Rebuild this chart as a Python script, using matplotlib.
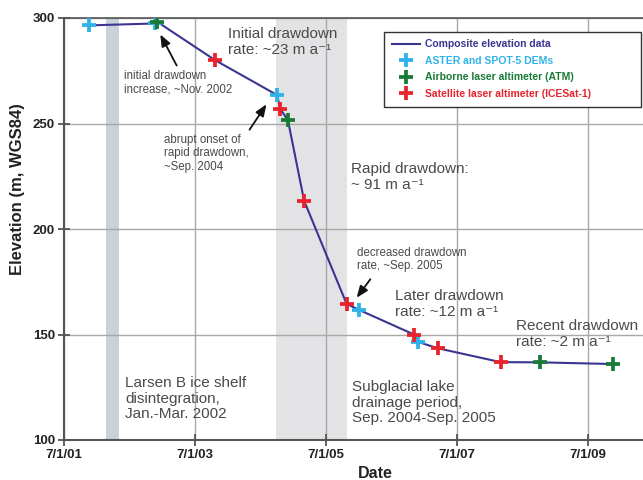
import numpy as np
import matplotlib
matplotlib.use("Agg")
import matplotlib.pyplot as plt
from matplotlib.lines import Line2D

plt.rcParams['font.family'] = ['Liberation Sans', 'DejaVu Sans']

# ---------------- data ----------------
aster_dates = ["2001-11-17", "2002-11-20", "2004-10-01", "2006-01-03", "2006-11-27"]
aster_elev = [296.5, 297.4, 263.5, 161.6, 146.5]

atm_dates = ["2002-12-01", "2004-12-01", "2008-10-08", "2009-11-17"]
atm_elev = [298.3, 251.5, 136.8, 136.0]

icesat_dates = ["2003-10-22", "2004-10-20", "2005-03-01", "2005-10-24",
                "2006-11-06", "2007-03-15", "2008-03-01"]
icesat_elev = [280.0, 256.8, 213.4, 164.5, 149.9, 143.5, 136.9]

y_ticks = [100, 150, 200, 250, 300]
x_tick_dates = ["2001-07-01", "2003-07-01", "2005-07-01", "2007-07-01", "2009-07-01"]

larsen_span = ("2002-02-20", "2002-05-05")
drainage_span = ("2004-09-26", "2005-10-27")

# composite built from all measurements
all_d = np.array(aster_dates + atm_dates + icesat_dates, dtype="datetime64[D]")
all_e = np.array(aster_elev + atm_elev + icesat_elev)
order = np.argsort(all_d)
comp_dates = all_d[order]
comp_elev = all_e[order]

# ---------------- figure ----------------
fig = plt.figure(figsize=(6.43, 4.8), dpi=100)
ax = fig.add_axes([64/643, 40/480, 586/643, 422/480])

c_line = "#3a3590"
c_cyan = "#2fb2ea"
c_green = "#197a36"
c_red = "#e8232b"
c_text = "#4a4a4a"

ax.axvspan(np.datetime64(larsen_span[0]), np.datetime64(larsen_span[1]),
           color="#c9d1d9", zorder=0, lw=0)
ax.axvspan(np.datetime64(drainage_span[0]), np.datetime64(drainage_span[1]),
           color="#e3e3e6", zorder=0, lw=0)

ax.plot(comp_dates, comp_elev, color=c_line, lw=1.5, zorder=3)
mk = dict(marker="+", ls="none", ms=10.5, mew=2.7, zorder=4)
ax.plot(np.array(aster_dates, dtype="datetime64[D]"), aster_elev, color=c_cyan, **mk)
ax.plot(np.array(atm_dates, dtype="datetime64[D]"), atm_elev, color=c_green, **mk)
ax.plot(np.array(icesat_dates, dtype="datetime64[D]"), icesat_elev, color=c_red, **mk)

ax.set_xlim(np.datetime64("2001-07-01"), np.datetime64("2010-06-12"))
ax.set_ylim(100, 300)
ax.set_yticks(y_ticks)
xt = np.array(x_tick_dates, dtype="datetime64[D]")
ax.set_xticks(xt)
ax.set_xticklabels([f"{int(s[5:7])}/{int(s[8:10])}/{s[2:4]}" for s in x_tick_dates])

ax.grid(True, color="#a8a8a8", lw=1, zorder=0.5)
for sp in ["left", "bottom"]:
    ax.spines[sp].set_color("#555555")
    ax.spines[sp].set_linewidth(1.5)
ax.spines["top"].set_color("#555555")
ax.spines["top"].set_linewidth(1.2)
ax.spines["right"].set_visible(False)
ax.tick_params(direction="inout", length=9, width=1.3, color="#555555",
               labelsize=9.5, pad=2)
for lbl in ax.get_xticklabels() + ax.get_yticklabels():
    lbl.set_fontweight("bold")
    lbl.set_color("#222222")

# axis titles (centred on the original, wider plot area)
fig.text(18/643, 1 - 189/480, "Elevation (m, WGS84)", rotation=90, fontsize=12,
         fontweight="bold", ha="center", va="center", color="#222222")
fig.text(375/643, 1 - 466/480, "Date", fontsize=11.5, fontweight="bold",
         ha="center", va="top", color="#222222")

# ---------------- annotations ----------------
def ptxt(px, py, s, size, **kw):
    fig.text(px/643, 1 - py/480, s, fontsize=size, color=c_text, va="top", ha="left",
             linespacing=1.15, **kw)

ptxt(228, 27, "Initial drawdown\nrate: ~23 m a\u207b\u00b9", 11)
ptxt(124, 70, "initial drawdown\nincrease, ~Nov. 2002", 8.3)
ptxt(164, 134, "abrupt onset of\nrapid drawdown,\n~Sep. 2004", 8.3)
ptxt(351, 162, "Rapid drawdown:\n~ 91 m a\u207b\u00b9", 11)
ptxt(357, 247, "decreased drawdown\nrate, ~Sep. 2005", 8.3)
ptxt(395, 289, "Later drawdown\nrate: ~12 m a\u207b\u00b9", 11)
ptxt(516, 319, "Recent drawdown\nrate: ~2 m a\u207b\u00b9", 11)
ptxt(125, 376, "Larsen B ice shelf\ndisintegration,\nJan.-Mar. 2002", 11)
ptxt(352, 380, "Subglacial lake\ndrainage period,\nSep. 2004-Sep. 2005", 11)

def parrow(x0, y0, x1, y1):
    fig.add_artist(matplotlib.patches.FancyArrowPatch(
        (x0/643, 1 - y0/480), (x1/643, 1 - y1/480), transform=fig.transFigure,
        arrowstyle="-|>,head_length=7,head_width=2.8", color="#111111", lw=1.3,
        mutation_scale=1, zorder=6))

parrow(178, 68, 159, 32)
parrow(248, 132, 268, 102)
parrow(372, 277, 355, 300)

# ---------------- legend ----------------
handles = [
    Line2D([], [], color=c_line, lw=1.5),
    Line2D([], [], color=c_cyan, marker="+", ls="none", ms=9.5, mew=2.7),
    Line2D([], [], color=c_green, marker="+", ls="none", ms=9.5, mew=2.7),
    Line2D([], [], color=c_red, marker="+", ls="none", ms=9.5, mew=2.7),
]
labels = ["Composite elevation data", "ASTER and SPOT-5 DEMs",
          "Airborne laser altimeter (ATM)", "Satellite laser altimeter (ICESat-1)"]
leg = ax.legend(handles, labels, loc="upper left",
                bbox_to_anchor=(320/586, 1 - 14/422, 257/586, 0.001),
                mode="expand", borderaxespad=0, fancybox=False,
                edgecolor="#333333", framealpha=1,
                prop={"size": 7.5, "weight": "bold"}, handlelength=2.7,
                handletextpad=0.5, labelspacing=0.62, borderpad=0.75,
                labelcolor=[c_line, c_cyan, c_green, c_red])
leg.get_frame().set_linewidth(1.0)
leg.set_zorder(7)

fig.savefig("out.png", dpi=100)
